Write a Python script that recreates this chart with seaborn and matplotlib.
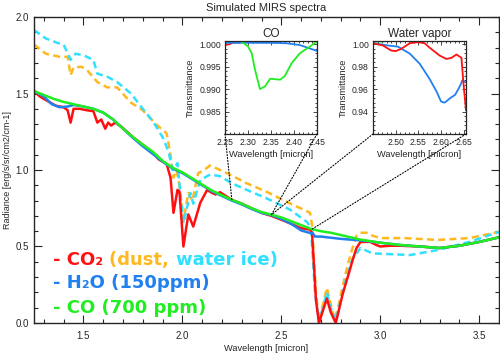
import numpy as np
import seaborn as sns
import matplotlib
matplotlib.use("Agg")
from matplotlib import pyplot as plt
from matplotlib.patches import ConnectionPatch

# ---- main spectra (wavelength in micron, radiance) ----
co_wl = [1.25, 1.30, 1.35, 1.40, 1.45, 1.50, 1.55, 1.60, 1.65, 1.70, 1.75, 1.80,
         1.85, 1.90, 1.95, 2.00, 2.05, 2.10, 2.15, 2.20, 2.25, 2.30, 2.35, 2.40,
         2.45, 2.50, 2.55, 2.60, 2.65, 2.70, 2.75, 2.80, 2.85, 2.90, 2.95, 3.00,
         3.10, 3.20, 3.30, 3.40, 3.50, 3.60]
co_rad = [1.516, 1.49, 1.465, 1.445, 1.43, 1.415, 1.40, 1.375, 1.33, 1.27, 1.215, 1.165,
          1.12, 1.06, 1.015, 0.985, 0.945, 0.905, 0.865, 0.835, 0.805, 0.78, 0.75, 0.725,
          0.708, 0.69, 0.665, 0.64, 0.615, 0.60, 0.59, 0.575, 0.56, 0.545, 0.535, 0.525,
          0.51, 0.50, 0.49, 0.505, 0.53, 0.56]

co2_wl = [1.25, 1.28, 1.32, 1.36, 1.40, 1.42, 1.435, 1.45, 1.48, 1.52, 1.55, 1.57,
          1.59, 1.61, 1.625, 1.64, 1.66, 1.69, 1.72, 1.75, 1.80, 1.85, 1.88, 1.92,
          1.94, 1.955, 1.975, 1.985, 2.005, 2.03, 2.055, 2.09, 2.125, 2.15, 2.167, 2.19,
          2.22, 2.25, 2.30, 2.35, 2.40, 2.45, 2.50, 2.55, 2.60, 2.645, 2.655, 2.675,
          2.69, 2.71, 2.73, 2.75, 2.775, 2.79, 2.81, 2.84, 2.86, 2.88, 2.90, 2.95,
          2.98, 3.00, 3.05, 3.10, 3.20, 3.30, 3.40, 3.50, 3.60]
co2_rad = [1.516, 1.48, 1.45, 1.42, 1.41, 1.39, 1.31, 1.40, 1.40, 1.39, 1.385, 1.31,
           1.33, 1.27, 1.31, 1.29, 1.31, 1.285, 1.25, 1.215, 1.165, 1.115, 1.07, 1.04,
           0.95, 0.72, 0.87, 0.86, 0.50, 0.71, 0.63, 0.785, 0.87, 0.85, 0.84, 0.855,
           0.83, 0.805, 0.78, 0.75, 0.72, 0.70, 0.675, 0.648, 0.62, 0.61, 0.59, 0.15,
           0.0, 0.08, 0.16, 0.07, 0.0, 0.08, 0.19, 0.32, 0.41, 0.49, 0.53, 0.53,
           0.51, 0.50, 0.505, 0.505, 0.50, 0.49, 0.505, 0.53, 0.56]

h2o_wl = [1.25, 1.30, 1.34, 1.38, 1.42, 1.45, 1.50, 1.55, 1.60, 1.65, 1.70, 1.75,
          1.80, 1.85, 1.90, 1.95, 2.00, 2.05, 2.10, 2.15, 2.20, 2.25, 2.30, 2.35,
          2.40, 2.45, 2.50, 2.55, 2.60, 2.64, 2.66, 2.67, 2.70, 2.80, 2.85, 2.90,
          2.95, 3.00, 3.10, 3.20, 3.30, 3.40, 3.50, 3.60]
h2o_rad = [1.516, 1.48, 1.43, 1.41, 1.415, 1.425, 1.415, 1.40, 1.375, 1.33, 1.27, 1.21,
           1.155, 1.105, 1.055, 1.01, 0.98, 0.94, 0.90, 0.86, 0.83, 0.80, 0.775, 0.745,
           0.72, 0.705, 0.68, 0.648, 0.605, 0.59, 0.585, 0.565, 0.565, 0.55, 0.545, 0.54,
           0.533, 0.525, 0.51, 0.50, 0.49, 0.505, 0.53, 0.56]

dust_wl = [1.25, 1.31, 1.38, 1.42, 1.435, 1.45, 1.49, 1.52, 1.57, 1.62, 1.67, 1.74,
           1.80, 1.87, 1.92, 1.94, 1.955, 1.97, 1.985, 2.005, 2.03, 2.05, 2.08, 2.11,
           2.14, 2.19, 2.24, 2.325, 2.425, 2.53, 2.63, 2.645, 2.655, 2.675, 2.69, 2.71,
           2.73, 2.75, 2.77, 2.79, 2.82, 2.85, 2.88, 2.90, 2.93, 2.95, 3.00, 3.12,
           3.29, 3.45, 3.60]
dust_rad = [1.82, 1.76, 1.74, 1.74, 1.62, 1.67, 1.675, 1.65, 1.575, 1.54, 1.54, 1.44,
            1.39, 1.295, 1.24, 1.10, 0.95, 1.0, 0.90, 0.67, 0.85, 0.80, 0.98, 1.0,
            1.03, 1.0, 0.97, 0.913, 0.858, 0.79, 0.73, 0.72, 0.64, 0.20, 0.02, 0.12,
            0.23, 0.12, 0.02, 0.12, 0.30, 0.45, 0.57, 0.59, 0.59, 0.575, 0.555, 0.555,
            0.543, 0.555, 0.595]

ice_wl = [1.25, 1.31, 1.37, 1.40, 1.435, 1.46, 1.50, 1.55, 1.57, 1.62, 1.67, 1.74,
          1.80, 1.85, 1.90, 1.93, 1.95, 1.975, 2.005, 2.04, 2.055, 2.09, 2.14, 2.19,
          2.25, 2.325, 2.425, 2.545, 2.63, 2.65, 2.67, 2.69, 2.71, 2.73, 2.75, 2.775,
          2.80, 2.83, 2.86, 2.90, 2.96, 3.05, 3.15, 3.29, 3.45, 3.60]
ice_rad = [1.915, 1.86, 1.83, 1.82, 1.72, 1.76, 1.75, 1.72, 1.63, 1.61, 1.575, 1.50,
           1.40, 1.32, 1.215, 1.12, 1.0, 1.045, 0.65, 0.85, 0.78, 0.935, 0.97, 0.96,
           0.913, 0.87, 0.815, 0.74, 0.66, 0.62, 0.2, 0.01, 0.1, 0.2, 0.1, 0.01,
           0.15, 0.30, 0.42, 0.49, 0.455, 0.45, 0.444, 0.477, 0.53, 0.595]

# ---- inset transmittances ----
co_in_wl = [2.25, 2.26, 2.27, 2.283, 2.30, 2.308, 2.315, 2.326, 2.337, 2.348, 2.37,
            2.38, 2.395, 2.413, 2.435, 2.45]
co_in_co = [1.0008, 1.0008, 1.0008, 1.0008, 0.9995, 0.998, 0.9944, 0.990, 0.9906,
            0.9923, 0.9921, 0.9929, 0.9958, 0.998, 0.9995, 1.0006]
co_in_h2o_wl = [2.25, 2.30, 2.35, 2.384, 2.413, 2.45]
co_in_h2o = [1.0003, 1.0003, 1.0003, 1.0002, 0.9998, 0.9985]
co_in_co2_wl = [2.25, 2.26, 2.268, 2.28]
co_in_co2 = [0.9998, 1.0000, 1.0004, 1.0004]

wv_wl = [2.45, 2.472, 2.49, 2.50, 2.512, 2.531, 2.549, 2.564, 2.575, 2.597, 2.612,
         2.623, 2.634, 2.645, 2.649, 2.655]
wv_co2 = [1.001, 0.999, 0.9945, 0.994, 0.996, 1.001, 1.002, 1.001, 0.997, 0.990, 0.987,
          0.988, 0.991, 0.988, 0.967, 0.941]
wv_h2o_wl = [2.45, 2.483, 2.505, 2.531, 2.553, 2.575, 2.59, 2.60, 2.608, 2.62, 2.631,
             2.642, 2.647, 2.655]
wv_h2o = [1.0012, 0.999, 0.998, 0.9918, 0.9827, 0.969, 0.958, 0.949, 0.948, 0.952,
          0.955, 0.963, 0.968, 0.966]
wv_co_wl = [2.45, 2.465, 2.475, 2.49]
wv_co = [1.0026, 1.0026, 1.0028, 1.006]

RED, BLUE, GREEN = "#ff1010", "#2080f0", "#20ee20"
ORANGE, CYAN = "#ffb820", "#30e0ff"

sns.set_style("ticks")
plt.rcParams["font.family"] = ["Liberation Sans", "DejaVu Sans"]

fig = plt.figure(figsize=(5.0, 3.59), dpi=100)
ax = fig.add_axes([0.068, 0.1003, 0.930, 0.8523])

dash = (0, (2.8, 1.7))
sns.lineplot(x=dust_wl, y=dust_rad, ax=ax, color=ORANGE, lw=1.8, linestyle=dash, estimator=None)
sns.lineplot(x=ice_wl, y=ice_rad, ax=ax, color=CYAN, lw=1.8, linestyle=dash, estimator=None)
sns.lineplot(x=co2_wl, y=co2_rad, ax=ax, color=RED, lw=1.8, estimator=None)
sns.lineplot(x=h2o_wl, y=h2o_rad, ax=ax, color=BLUE, lw=1.8, estimator=None)
sns.lineplot(x=co_wl, y=co_rad, ax=ax, color=GREEN, lw=1.8, estimator=None)

ax.set_xlim(1.25, 3.6)
ax.set_ylim(0, 2.0)
ax.set_xticks([1.5, 2.0, 2.5, 3.0, 3.5])
ax.set_yticks([0.0, 0.5, 1.0, 1.5, 2.0])
ax.set_xticks(np.arange(1.3, 3.61, 0.1), minor=True)
ax.set_yticks(np.arange(0, 2.01, 0.1), minor=True)
ax.tick_params(which="both", direction="in", top=True, right=True, labelsize=7, width=0.8)
ax.tick_params(which="major", length=6)
ax.tick_params(which="minor", length=3)
ax.tick_params(axis="x", pad=6)
for s in ax.spines.values():
    s.set_linewidth(1.0)
ax.set_xlabel("Wavelength [micron]", fontsize=6.7, labelpad=2)
ax.set_ylabel("Radiance [erg/s/sr/cm2/cm-1]", fontsize=6.5, labelpad=3)
ax.set_title("Simulated MIRS spectra", fontsize=8, pad=4)

# ---- colored legend text ----
lfont = dict(fontsize=13, fontweight="bold", family="DejaVu Sans", va="baseline")
t1 = ax.text(0.041, 0.19, "- CO\u2082 ", color=RED, transform=ax.transAxes, **lfont)
t2 = ax.annotate("(dust, ", xy=(1, 0.19), xycoords=(t1, ax.transAxes), color=ORANGE, **lfont)
ax.annotate("water ice)", xy=(1, 0.19), xycoords=(t2, ax.transAxes), color=CYAN, **lfont)
ax.text(0.041, 0.113, "- H\u2082O (150ppm)", color=BLUE, transform=ax.transAxes, **lfont)
ax.text(0.041, 0.034, "- CO (700 ppm)", color=GREEN, transform=ax.transAxes, **lfont)


def inset(rect, title, xlim, ylim, xticks, yticks, fmt, xminor, yminor):
    a = fig.add_axes(rect)
    a.set_xlim(*xlim)
    a.set_ylim(*ylim)
    a.set_xticks(xticks)
    a.set_yticks(yticks)
    a.set_xticks(xminor, minor=True)
    a.set_yticks(yminor, minor=True)
    a.set_yticklabels([fmt % v for v in yticks])
    a.set_xticklabels(["%.2f" % v for v in xticks])
    a.tick_params(which="both", direction="in", top=True, right=True, labelsize=6.2,
                  width=0.6, pad=3)
    a.tick_params(which="major", length=3)
    a.tick_params(which="minor", length=1.5)
    a.set_title(title, fontsize=8.5, pad=3)
    a.set_xlabel("Wavelength [micron]", fontsize=6.7, labelpad=2)
    a.set_ylabel("Transmittance", fontsize=6.7, labelpad=3)
    for s in a.spines.values():
        s.set_linewidth(0.9)
    return a


ax_co = inset([0.450, 0.6267, 0.184, 0.259], "CO", (2.25, 2.45), (0.980, 1.0007),
              [2.25, 2.30, 2.35, 2.40, 2.45], [0.985, 0.990, 0.995, 1.000], "%.3f",
              np.arange(2.25, 2.451, 0.01), np.arange(0.980, 1.0007, 0.001))
sns.lineplot(x=co_in_co2_wl, y=co_in_co2, ax=ax_co, color=RED, lw=1.3, estimator=None)
sns.lineplot(x=co_in_h2o_wl, y=co_in_h2o, ax=ax_co, color=BLUE, lw=1.3, estimator=None)
sns.lineplot(x=co_in_wl, y=co_in_co, ax=ax_co, color=GREEN, lw=1.3, estimator=None)

ax_wv = inset([0.746, 0.6267, 0.186, 0.259], "Water vapor", (2.45, 2.655), (0.92, 1.003),
              [2.50, 2.55, 2.60, 2.65], [0.94, 0.96, 0.98, 1.00], "%.2f",
              np.arange(2.45, 2.656, 0.01), np.arange(0.92, 1.003, 0.004))
sns.lineplot(x=wv_co_wl, y=wv_co, ax=ax_wv, color=GREEN, lw=1.3, estimator=None)
sns.lineplot(x=wv_h2o_wl, y=wv_h2o, ax=ax_wv, color=BLUE, lw=1.3, estimator=None)
sns.lineplot(x=wv_wl, y=wv_co2, ax=ax_wv, color=RED, lw=1.3, estimator=None)

# dotted connectors from inset corners down to the continuum
for a in (ax_co, ax_wv):
    x0, x1 = a.get_xlim()
    y0 = a.get_ylim()[0]
    for xx in (x0, x1):
        con = ConnectionPatch(xyA=(xx, y0), coordsA=a.transData,
                              xyB=(xx, np.interp(xx, co_wl, co_rad)), coordsB=ax.transData,
                              linestyle=":", color="black", lw=0.8)
        fig.add_artist(con)

fig.savefig("out.png", dpi=100)
